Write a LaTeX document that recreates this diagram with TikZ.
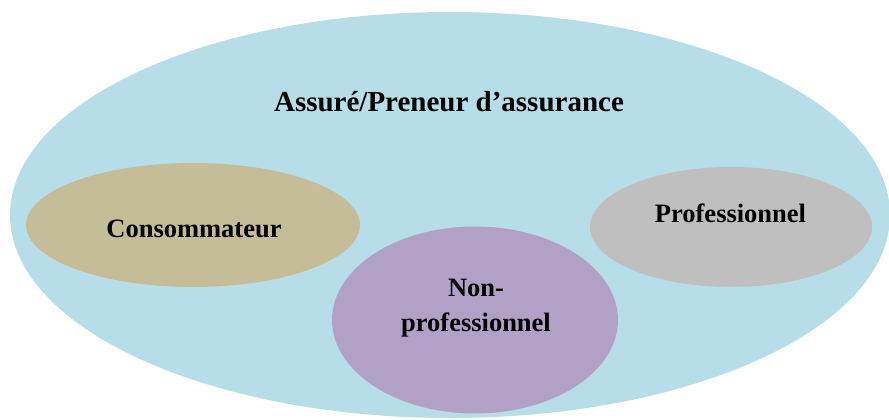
\documentclass[tikz,border=0pt]{standalone}
\usepackage{fontspec}
\setmainfont{Liberation Serif}
\usetikzlibrary{shapes.geometric}
\definecolor{outerblue}{HTML}{B7DEE8}
\definecolor{tanfill}{HTML}{C4BD97}
\definecolor{greyfill}{HTML}{BFBFBF}
\definecolor{lilac}{HTML}{B2A1C7}
\tikzset{
  blob/.style={ellipse, draw=none, inner sep=0pt},
  lbl/.style={inner sep=0pt, font=\bfseries\fontsize{26.5}{35}\selectfont, text=black},
  ttl/.style={inner sep=0pt, font=\bfseries\fontsize{29}{35}\selectfont, text=black}
}
\begin{document}
\begin{tikzpicture}[x=1pt,y=-1pt]
\useasboundingbox (0,0) rectangle (889,420);
\node[blob, fill=outerblue, minimum width=880pt, minimum height=406pt] (outer) at (450,215) {};
\node[blob, fill=tanfill, minimum width=334pt, minimum height=124pt] (cons) at (193,225) {};
\node[blob, fill=greyfill, minimum width=282pt, minimum height=120pt] (prof) at (731,227) {};
\node[blob, fill=lilac, minimum width=286pt, minimum height=187pt] (nonprof) at (475,320) {};
\node[ttl, anchor=base] (title) at (449,111) {Assuré/Preneur d’assurance};
\node[lbl, anchor=base] (tcons) at (194,237) {Consommateur};
\node[lbl, anchor=base] (tprof) at (730.5,222) {Professionnel};
\node[lbl, align=center] (tnon) at (476,308.5) {Non-\\professionnel};
\end{tikzpicture}
\end{document}
